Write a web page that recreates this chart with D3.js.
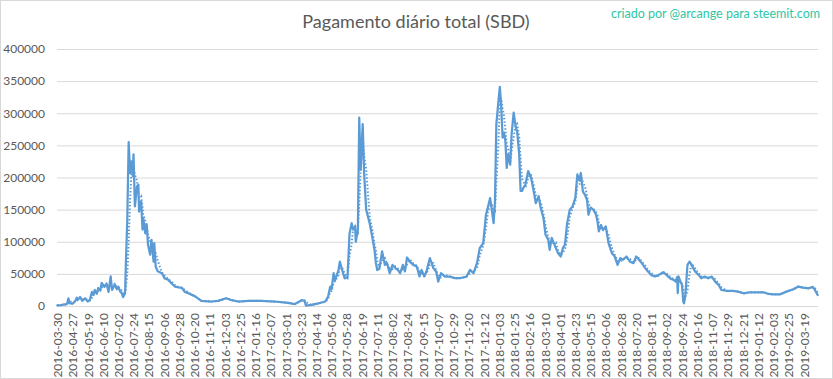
<!DOCTYPE html>
<html>
<head>
<meta charset="utf-8">
<script src="https://cdn.jsdelivr.net/npm/d3@7"></script>
<style>
  html, body { margin: 0; padding: 0; background: #fff; }
  svg { display: block; }
  text { font-family: Lato, "Open Sans", "Liberation Sans", sans-serif; }
</style>
</head>
<body>
<svg id="chart" width="833" height="379"></svg>
<script>
// ---------- data ----------
const chartTitle = "Pagamento diário total (SBD)";
const creditText = "criado por @arcange para steemit.com";

const tickLabels = [
  "2016-03-30","2016-04-27","2016-05-19","2016-06-10","2016-07-02","2016-07-24","2016-08-15",
  "2016-09-06","2016-09-28","2016-10-20","2016-11-11","2016-12-03","2016-12-25","2017-01-16",
  "2017-02-07","2017-03-01","2017-03-23","2017-04-14","2017-05-06","2017-05-28","2017-06-19",
  "2017-07-11","2017-08-02","2017-08-24","2017-09-15","2017-10-07","2017-10-29","2017-11-20",
  "2017-12-12","2018-01-03","2018-01-25","2018-02-16","2018-03-10","2018-04-01","2018-04-23",
  "2018-05-15","2018-06-06","2018-06-28","2018-07-20","2018-08-11","2018-09-02","2018-09-24",
  "2018-10-16","2018-11-07","2018-11-29","2018-12-21","2019-01-12","2019-02-03","2019-02-25",
  "2019-03-19"
];
const daysPerLabel = 22;
const nCategories = 1099;
const yTicks = [0, 50000, 100000, 150000, 200000, 250000, 300000, 350000, 400000];

// day index (category number) and daily payout (SBD)
const dayIndex = [
  0,5,10,14,16,18,22,26,28,30,33,36,40,44,47,50,52,54,57,59,62,64,68,71,74,77,79,83,86,88,91,93,95,97,98,99,
  101,103,105,107,109,110,112,115,117,118,121,123,124,127,129,131,134,136,139,140,142,145,151,155,160,165,170,175,180,184,189,199,
  208,223,232,244,252,261,276,295,314,333,343,353,357,359,367,377,379,387,391,394,396,399,
  401,406,408,411,415,419,422,425,427,430,431,434,436,438,441,443,446,451,455,458,460,462,465,469,473,476,480,484,488,492,495,499,
  502,505,509,514,519,523,526,530,533,538,543,547,550,554,560,567,574,581,591,596,
  601,606,610,615,619,622,625,627,630,632,634,637,639,641,643,645,647,649,651,654,656,659,662,664,667,669,671,673,676,680,684,687,691,695,698,
  702,705,709,711,714,716,720,723,727,730,733,736,740,744,748,751,754,756,759,762,765,767,770,774,778,780,782,785,788,792,796,
  801,805,809,813,817,822,827,832,836,840,844,849,853,858,863,868,875,880,885,890,893,895,896,897,899,
  902,904,905,907,910,913,916,921,926,930,935,940,945,950,955,959,967,976,983,991,
  1000,1010,1020,1027,1034,1044,1053,1063,1070,1077,1085,1091,1094,1098
];
const payout = [
  1000,1500,2500,3000,12000,4000,3500,8000,13000,10000,14000,8000,12000,7000,10000,22000,17000,25000,19000,28000,24000,36000,30000,35000,22000,46000,25000,33000,26000,30000,22000,20000,14000,18000,25000,67000,
  134000,255000,207000,225000,202000,236000,155000,186000,189000,147000,163000,119000,137000,113000,127000,95000,80000,103000,69000,98000,61000,54000,51000,43000,41000,35000,30000,29000,28000,22000,20000,15000,
  8000,7000,8000,12000,9000,7000,8000,8000,7000,5000,3000,9000,8000,500,1600,4000,4700,7000,14600,30000,26000,51000,
  40000,56000,69000,57000,43000,45000,113000,129000,119000,124000,100000,119000,293000,212000,283000,207000,150000,129000,106000,87500,67000,56000,58000,85000,64000,67000,51000,64000,59000,56000,51000,64000,
  54000,75500,69000,64000,61500,46000,56000,46000,53600,74500,58900,53600,38000,51000,45800,45800,43200,43200,45800,56200,
  51000,66700,90000,98000,142000,155000,168000,153000,129000,163000,283000,319000,341000,311000,262000,270000,257000,215000,236000,220000,267000,301000,278000,272000,236000,179000,179000,184000,189000,210000,200000,184000,160000,171000,153000,
  137000,111000,103000,87500,106000,100500,90000,82300,77000,90000,95300,127000,150000,155000,168000,205000,195000,207000,178000,173000,165000,142000,153000,150000,142000,132000,116000,126000,118000,124000,98000,
  82000,77000,64000,74500,72000,77000,69000,66700,77000,72000,66700,59000,53600,48000,46000,48000,52600,48000,43000,40600,38000,45000,20000,46000,40600,
  32800,6800,4200,17200,64000,69000,64000,53600,48400,43200,45800,43200,45800,38000,32800,25000,23400,23400,22400,19800,
  21400,21400,21400,18700,18200,18200,22400,26000,30200,28600,27600,29700,25000,17000
];
const trendWindowDays = 7;

// ---------- drawing ----------
const W = 833, H = 379;
const plot = { left: 57, right: 818, top: 49, bottom: 306 };
const lineColor = "#5B9BD5";

const svg = d3.select("#chart");

svg.append("rect")
  .attr("x", 0.5).attr("y", 0.5).attr("width", W - 1).attr("height", H - 1)
  .attr("fill", "#fff").attr("stroke", "#D9D9D9");

const x = d3.scaleLinear().domain([-0.5, nCategories - 0.5]).range([plot.left, plot.right]);
const y = d3.scaleLinear().domain([0, 400000]).range([plot.bottom, plot.top]);

// y axis with gridlines
const yAxis = svg.append("g")
  .attr("transform", `translate(${plot.left},0)`)
  .call(d3.axisLeft(y).tickValues(yTicks).tickSize(-(plot.right - plot.left)).tickPadding(12).tickFormat(d3.format("d")));
yAxis.select(".domain").remove();
yAxis.selectAll(".tick line").attr("stroke", "#D9D9D9").attr("stroke-width", 1);
yAxis.selectAll(".tick text")
  .attr("fill", "#595959").style("font-size", "12px");

// x axis labels
const tickIdx = tickLabels.map((_, i) => i * daysPerLabel);
const xAxis = svg.append("g")
  .attr("transform", `translate(0,${plot.bottom})`)
  .call(d3.axisBottom(x).tickValues(tickIdx).tickSize(0).tickFormat((d, i) => tickLabels[i]));
xAxis.select(".domain").remove();
xAxis.selectAll(".tick text")
  .attr("fill", "#595959").style("font-size", "12px")
  .attr("text-anchor", "end")
  .attr("transform", "rotate(-90)")
  .attr("x", -7).attr("y", 0).attr("dy", "0.35em");

// series
const series = dayIndex.map((d, i) => ({ d, v: payout[i] }));
const trend = series.map((p, i) => {
  const win = series.filter(q => q.d <= p.d && q.d > p.d - trendWindowDays);
  return { d: p.d, v: d3.mean(win, q => q.v) };
});

const line = d3.line().x(p => x(p.d)).y(p => y(p.v)).curve(d3.curveLinear);

svg.append("path").datum(trend)
  .attr("d", line).attr("fill", "none")
  .attr("stroke", lineColor).attr("stroke-width", 2)
  .attr("stroke-dasharray", "1.5,2").attr("stroke-linecap", "butt");

svg.append("path").datum(series)
  .attr("d", line).attr("fill", "none")
  .attr("stroke", lineColor).attr("stroke-width", 2.25)
  .attr("stroke-linejoin", "round").attr("stroke-linecap", "round");

// title & credit
svg.append("text")
  .attr("x", 416).attr("y", 28).attr("text-anchor", "middle")
  .attr("fill", "#595959").style("font-size", "18px")
  .text(chartTitle);

svg.append("text")
  .attr("x", 820).attr("y", 18).attr("text-anchor", "end")
  .attr("fill", "#2EC6A5").style("font-size", "12.5px")
  .text(creditText);
</script>
</body>
</html>
